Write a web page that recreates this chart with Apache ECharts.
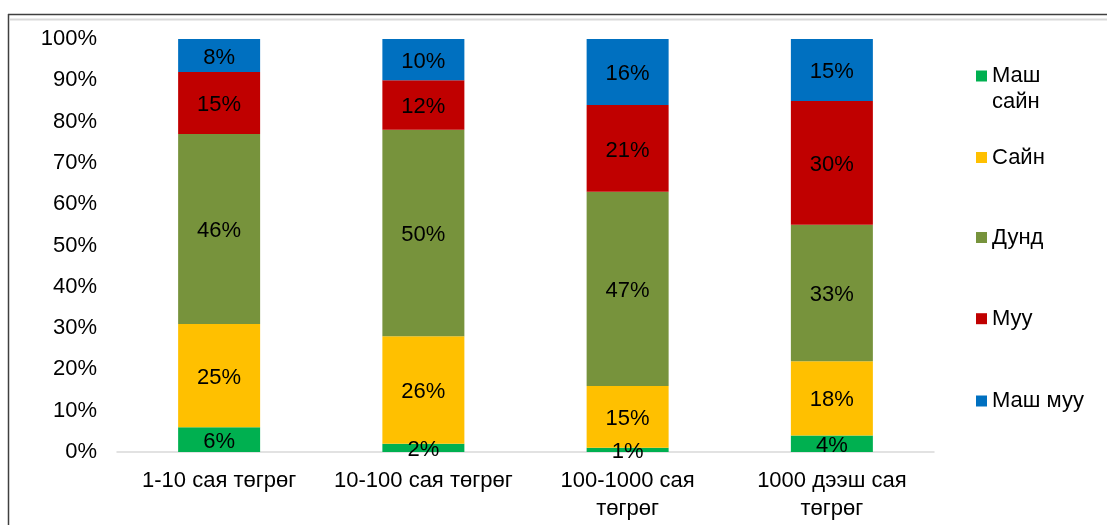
<!DOCTYPE html>
<html>
<head>
<meta charset="utf-8">
<script src="https://cdn.jsdelivr.net/npm/echarts@6/dist/echarts.min.js"></script>
<style>
html,body{margin:0;padding:0;background:#fff;}
#chart{width:1107px;height:525px;}
</style>
</head>
<body>
<div id="chart"></div>
<script>
const categories = ['1-10 сая төгрөг', '10-100 сая төгрөг', '100-1000 сая төгрөг', '1000 дээш сая төгрөг'];
const seriesNames = ['Маш сайн', 'Сайн', 'Дунд', 'Муу', 'Маш муу'];
const mashSain = [6, 2, 1, 4];
const sain = [25, 26, 15, 18];
const dund = [46, 50, 47, 33];
const muu = [15, 12, 21, 30];
const mashMuu = [8, 10, 16, 15];
const yTicks = [0, 10, 20, 30, 40, 50, 60, 70, 80, 90, 100];

const colors = ['#00B050', '#FFC000', '#77933C', '#C00000', '#0070C0'];
const values = [mashSain, sain, dund, muu, mashMuu];
const FONT = '"Liberation Sans", Arial, sans-serif';

const legendTops = [37, 144.5, 224.5, 305.7, 388];
const legends = seriesNames.map((n, i) => ({
  data: [n],
  orient: 'vertical',
  left: 976,
  top: legendTops[i],
  padding: 0,
  icon: 'rect',
  itemWidth: 11,
  itemHeight: 11,
  selectedMode: false,
  formatter: name => (name.length > 7 && name.indexOf(' ') > 0 && i === 0)
    ? '\n' + name.replace(' ', '\n') : name,
  textStyle: {fontSize: 22, color: '#000', fontFamily: FONT, lineHeight: 26}
}));

const chart = echarts.init(document.getElementById('chart'), null, {renderer: 'canvas'});
chart.setOption({
  animation: false,
  backgroundColor: '#fff',
  textStyle: {fontFamily: FONT},
  color: colors,
  grid: {left: 117, right: 173, top: 39, bottom: 73, containLabel: false, outerBoundsMode: 'none'},
  legend: legends,
  xAxis: {
    type: 'category',
    data: categories,
    axisLine: {show: true, lineStyle: {color: '#d9d9d9', width: 1.5}},
    axisTick: {show: false},
    axisLabel: {
      interval: 0, fontSize: 22, color: '#000', fontFamily: FONT, margin: 15,
      lineHeight: 28,
      formatter: v => v.length > 17 ? v.replace(/ (\S+)$/, '\n$1') : v
    }
  },
  yAxis: {
    type: 'value',
    min: 0, max: 100, interval: 10,
    axisLine: {show: false},
    axisTick: {show: false},
    splitLine: {show: false},
    axisLabel: {fontSize: 22, color: '#000', fontFamily: FONT, margin: 20, padding: [3, 0, 0, 0],
      formatter: v => (yTicks.includes(v) ? v + '%' : '')}
  },
  series: seriesNames.map((n, i) => ({
    name: n,
    type: 'bar',
    stack: 'total',
    barWidth: 82,
    data: values[i],
    itemStyle: {color: colors[i]},
    label: {show: true, position: 'inside', offset: [0, 2], formatter: '{c}%', fontSize: 22, color: '#000', fontFamily: FONT}
  })),
  graphic: [
    {type: 'line', silent: true, shape: {x1: 8, y1: 14.5, x2: 1107, y2: 14.5}, style: {stroke: '#404040', lineWidth: 1.5}},
    {type: 'line', silent: true, shape: {x1: 8.5, y1: 14, x2: 8.5, y2: 525}, style: {stroke: '#404040', lineWidth: 1.5}},
    {type: 'line', silent: true, shape: {x1: 10, y1: 19.5, x2: 1107, y2: 19.5}, style: {stroke: '#d9d9d9', lineWidth: 2}}
  ]
});
</script>
</body>
</html>
